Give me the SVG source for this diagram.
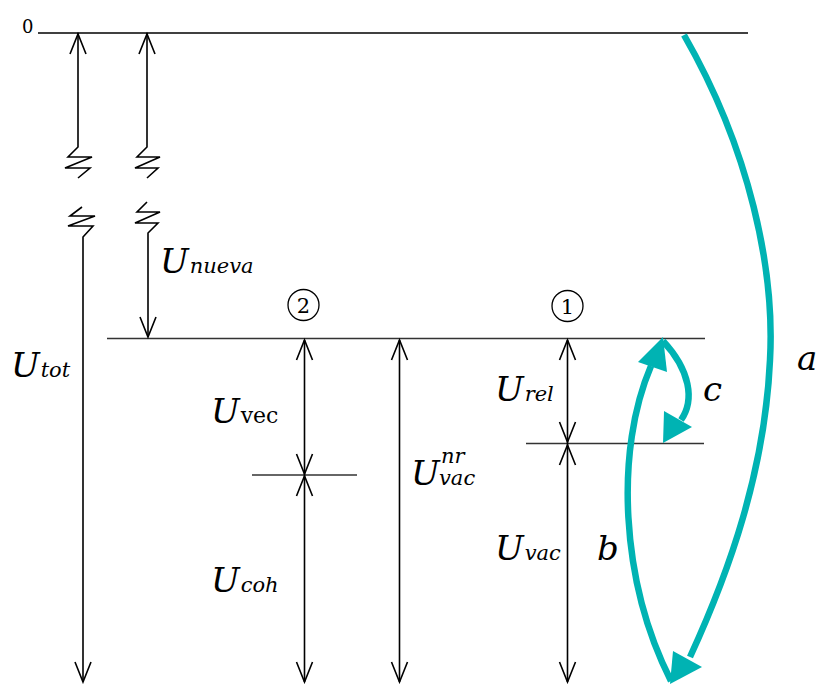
<svg xmlns="http://www.w3.org/2000/svg" width="821" height="684" viewBox="0 0 821 684">
<defs>
<style>
.ln{stroke:#000;stroke-width:1.6;fill:none}
.lv{stroke:#333;stroke-width:1.3;fill:none}
.ah{stroke:#000;stroke-width:1.6;fill:none;stroke-linejoin:miter}
.tl{stroke:#00b3b3;stroke-width:6.5;fill:none;stroke-linecap:butt}
.th{fill:#00b3b3;stroke:none}
text{font-family:"DejaVu Serif","Liberation Serif",serif;fill:#000}
.U{font-style:italic;font-size:34px}
.s{font-style:italic;font-size:21px}
.r{font-style:normal;font-size:22px}
.n{font-size:21px}
.z{font-size:18px}
</style>
</defs>
<rect width="821" height="684" fill="#fff"/>
<g id="levels">
<line class="lv" x1="38" y1="33" x2="748" y2="33" style="stroke:#000"/>
<line class="lv" x1="107" y1="338.5" x2="705" y2="338.5"/>
<line class="lv" x1="526" y1="443.5" x2="704" y2="443.5"/>
<line class="lv" x1="252" y1="475" x2="357" y2="475"/>
<text class="z" x="22" y="33">0</text>
</g>
<g id="connectors">
<polyline class="ln" points="78,33 78,147 68,157 92,157 65,168 90,168 78,178"/>
<path class="ah" d="M70,54 L78,34 L86,54"/>
<polyline class="ln" points="82,207 70,216 95,216 68,226 93,226 83,237 83,682"/>
<path class="ah" d="M75,662 L83,682 L91,662"/>
<polyline class="ln" points="147,33 147,147 137,157 160,157 135,168 158,168 147,178"/>
<path class="ah" d="M139,54 L147,34 L155,54"/>
<polyline class="ln" points="147,202 137,212 160,212 135,223 158,223 148,233 148,337"/>
<path class="ah" d="M140,317 L148,337 L156,317"/>
<line class="ln" x1="304.5" y1="340" x2="304.5" y2="682"/>
<path class="ah" d="M296.5,360 L304.5,340 L312.5,360"/>
<path class="ah" d="M296.5,454 L304.5,474 L312.5,454"/>
<path class="ah" d="M296.5,496 L304.5,476 L312.5,496"/>
<path class="ah" d="M296.5,662 L304.5,682 L312.5,662"/>
<line class="ln" x1="399.5" y1="340" x2="399.5" y2="682"/>
<path class="ah" d="M391.5,360 L399.5,340 L407.5,360"/>
<path class="ah" d="M391.5,662 L399.5,682 L407.5,662"/>
<line class="ln" x1="567.5" y1="340" x2="567.5" y2="682"/>
<path class="ah" d="M559.5,360 L567.5,340 L575.5,360"/>
<path class="ah" d="M559.5,422 L567.5,442 L575.5,422"/>
<path class="ah" d="M559.5,465 L567.5,445 L575.5,465"/>
<path class="ah" d="M559.5,662 L567.5,682 L575.5,662"/>
<path class="tl" d="M684,35 C750,150 775,270 770,360 C765,470 730,570 690,657"/>
<polygon class="th" points="670,684 673,651 702,667"/>
<path class="tl" d="M671,681 C620,580 615,450 651,366"/>
<polygon class="th" points="663,337 638,362 667,372"/>
<path class="tl" d="M663,341 C690,370 695,400 681,420"/>
<polygon class="th" points="663,443 664,411 692,427"/>
</g>
<g id="labels">
<g id="n2"><circle cx="303.5" cy="305" r="15.5" fill="none" stroke="#000" stroke-width="1.3"/><text class="n" x="303.5" y="312.5" text-anchor="middle">2</text></g>
<g id="n1"><circle cx="567.5" cy="306" r="15.5" fill="none" stroke="#000" stroke-width="1.3"/><text class="n" x="567.5" y="313.5" text-anchor="middle">1</text></g>
<text x="160" y="273"><tspan class="U">U</tspan><tspan class="s" dx="1">nueva</tspan></text>
<text x="11" y="377"><tspan class="U">U</tspan><tspan class="s" dx="1">tot</tspan></text>
<text x="211" y="423"><tspan class="U">U</tspan><tspan class="r" dx="1">vec</tspan></text>
<text x="411" y="485"><tspan class="U">U</tspan><tspan class="s" x="441" dy="-22">nr</tspan><tspan class="s" x="439" dy="22">vac</tspan></text>
<text x="211" y="592"><tspan class="U">U</tspan><tspan class="s" dx="1">coh</tspan></text>
<text x="495" y="401"><tspan class="U">U</tspan><tspan class="s" dx="1">rel</tspan></text>
<text x="495" y="560"><tspan class="U">U</tspan><tspan class="s" dx="1">vac</tspan></text>
<text x="597" y="560" class="U">b</text>
<text x="703" y="401" class="U">c</text>
<text x="797" y="370" class="U">a</text>
</g>
</svg>
